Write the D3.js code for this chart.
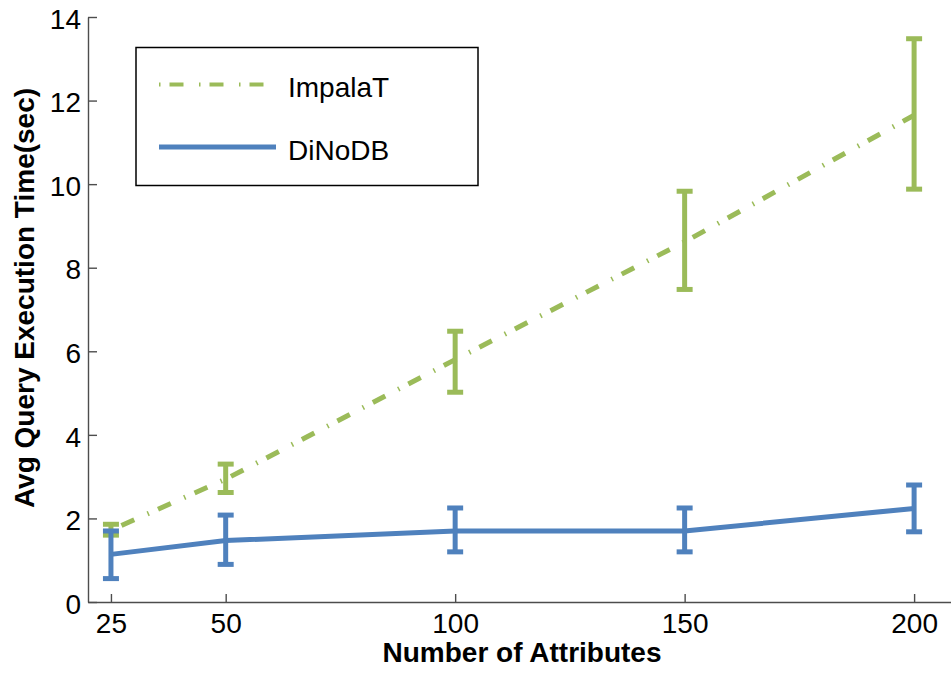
<!DOCTYPE html>
<html>
<head>
<meta charset="utf-8">
<script src="https://cdn.jsdelivr.net/npm/d3@7"></script>
<style>
  body { margin: 0; background: #fff; }
  svg text { font-family: "Liberation Sans", Arial, sans-serif; }
</style>
</head>
<body>
<svg id="chart" width="951" height="674"></svg>
<script>
// Data
var attributes = [25, 50, 100, 150, 200];

var impalaMean = [1.72, 2.94, 5.8, 8.62, 11.65];
var impalaLow  = [1.6, 2.62, 5.02, 7.48, 9.88];
var impalaHigh = [1.86, 3.3, 6.48, 9.83, 13.48];

var dinoMean = [1.14, 1.47, 1.7, 1.7, 2.24];
var dinoLow  = [0.56, 0.9, 1.2, 1.2, 1.68];
var dinoHigh = [1.7, 2.08, 2.25, 2.25, 2.8];

var xTicks = [25, 50, 100, 150, 200];
var yTicks = [0, 2, 4, 6, 8, 10, 12, 14];

var green = '#9bbb59',
    blue = '#4f81bd',
    axisCol = '#4d4d4d';

var svg = d3.select('#chart');

var x = d3.scaleLinear().domain([20, 210]).range([88, 960]);
var y = d3.scaleLinear().domain([0, 14]).range([602, 17]);

// axes
var yAxis = svg.append('g')
  .attr('transform', 'translate(88,0)')
  .call(d3.axisLeft(y).tickValues(yTicks).tickSizeInner(-9).tickSizeOuter(0).tickPadding(7));

var xAxis = svg.append('g')
  .attr('transform', 'translate(0,602)')
  .call(d3.axisBottom(x).tickValues(xTicks).tickSizeInner(-8).tickSizeOuter(0).tickPadding(11));

[xAxis, yAxis].forEach(function (a) {
  a.select('.domain').attr('stroke', axisCol).attr('stroke-width', 1.4);
  a.selectAll('.tick line').attr('stroke', axisCol).attr('stroke-width', 1.4);
  a.selectAll('.tick text')
    .attr('fill', '#000')
    .style('font-size', '28px')
    .style('font-family', '"Liberation Sans", Arial, sans-serif');
});
yAxis.selectAll('.tick text').attr('dy', '0.4em');

// axis titles
svg.append('text')
  .attr('x', 522).attr('y', 662)
  .attr('text-anchor', 'middle')
  .style('font-size', '28px').style('font-weight', 'bold')
  .text('Number of Attributes');

svg.append('text')
  .attr('transform', 'translate(34,298) rotate(-90)')
  .attr('text-anchor', 'middle')
  .style('font-size', '28px').style('font-weight', 'bold')
  .text('Avg Query Execution Time(sec)');

// series
function drawSeries (mean, low, high, color, dash) {
  var pts = attributes.map(function (a, i) {
    return { x: a, m: mean[i], lo: low[i], hi: high[i] };
  });
  var line = d3.line().x(function (d) { return x(d.x); }).y(function (d) { return y(d.m); });
  var g = svg.append('g');

  g.append('path')
    .datum(pts)
    .attr('d', line)
    .attr('fill', 'none')
    .attr('stroke', color)
    .attr('stroke-width', 5)
    .attr('stroke-dasharray', dash);

  var bars = g.selectAll('.err').data(pts).enter().append('g').attr('class', 'err');
  bars.append('line')
    .attr('x1', function (d) { return x(d.x); }).attr('x2', function (d) { return x(d.x); })
    .attr('y1', function (d) { return y(d.lo); }).attr('y2', function (d) { return y(d.hi); });
  bars.append('line')
    .attr('x1', function (d) { return x(d.x) - 8; }).attr('x2', function (d) { return x(d.x) + 8; })
    .attr('y1', function (d) { return y(d.lo); }).attr('y2', function (d) { return y(d.lo); });
  bars.append('line')
    .attr('x1', function (d) { return x(d.x) - 8; }).attr('x2', function (d) { return x(d.x) + 8; })
    .attr('y1', function (d) { return y(d.hi); }).attr('y2', function (d) { return y(d.hi); });
  bars.selectAll('line').attr('stroke', color).attr('stroke-width', 5);
}

drawSeries(impalaMean, impalaLow, impalaHigh, green, '1.5 10 14 14.5');
drawSeries(dinoMean, dinoLow, dinoHigh, blue, null);

// legend
var legend = svg.append('g');
legend.append('rect')
  .attr('x', 136).attr('y', 47.5).attr('width', 342).attr('height', 138)
  .attr('fill', '#fff').attr('stroke', '#000').attr('stroke-width', 1.5);

var legendItems = [
  { name: 'ImpalaT', color: green, dash: '1.5 9 14 15.5', w: 4, yy: 84.5 },
  { name: 'DiNoDB', color: blue, dash: null, w: 5, yy: 147 }
];
legendItems.forEach(function (d) {
  legend.append('line')
    .attr('x1', 159).attr('x2', 276).attr('y1', d.yy).attr('y2', d.yy)
    .attr('stroke', d.color).attr('stroke-width', d.w)
    .attr('stroke-dasharray', d.dash);
  legend.append('text')
    .attr('x', 288).attr('y', d.yy + 12.5)
    .style('font-size', '28px')
    .text(d.name);
});
</script>
</body>
</html>
